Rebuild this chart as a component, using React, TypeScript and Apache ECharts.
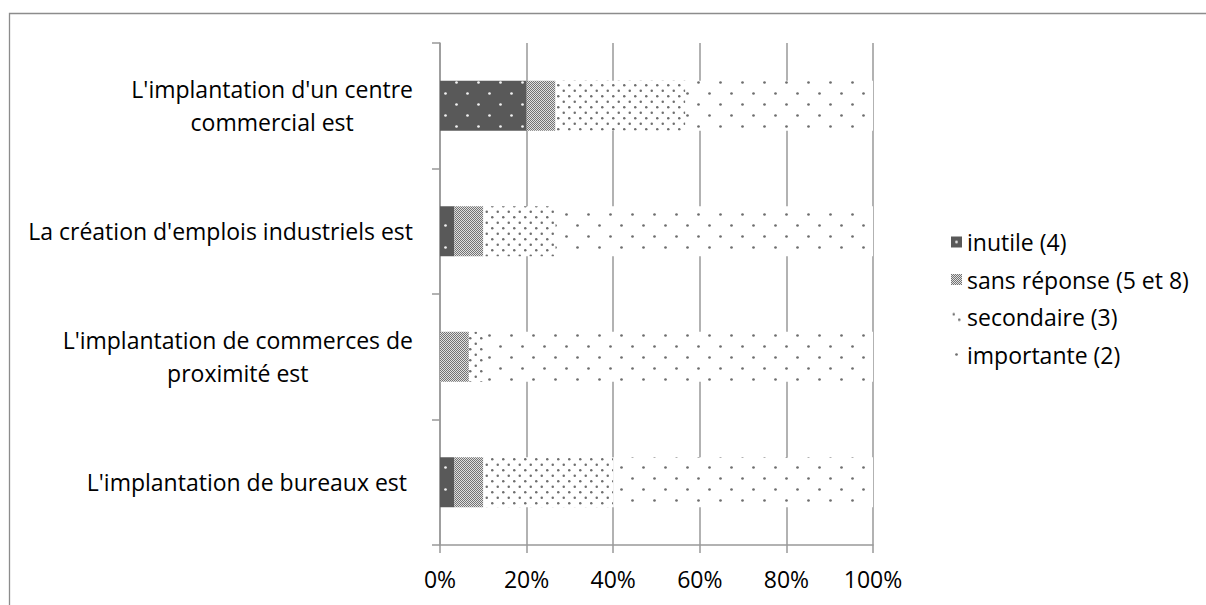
import React, { useEffect, useRef } from "react";
import * as echarts from "echarts";

const categories = [
  "L'implantation d'un centre\ncommercial est",
  "La création d'emplois industriels est",
  "L'implantation de commerces de\nproximité est",
  "L'implantation de bureaux est ",
];
const seriesNames = ["inutile (4)", "sans réponse (5 et 8)", "secondaire (3)", "importante (2)"];
const inutile = [20, 3.33, 0, 3.33];
const sansReponse = [6.67, 6.67, 6.67, 6.67];
const secondaire = [30, 16.67, 3.33, 30];
const importante = [43.33, 73.33, 90, 60];
const xMin = 0;
const xMax = 100;
const xStep = 20;

const FONT = "'Open Sans', 'Noto Sans', sans-serif";

function dotTile(w: number, h: number, bg: string, dot: string, dots: number[][], r: number) {
  const c = document.createElement("canvas");
  c.width = w;
  c.height = h;
  const ctx = c.getContext("2d")!;
  ctx.fillStyle = bg;
  ctx.fillRect(0, 0, w, h);
  ctx.fillStyle = dot;
  for (const [x, y] of dots) {
    ctx.beginPath();
    ctx.arc(x, y, r, 0, Math.PI * 2);
    ctx.fill();
  }
  return { image: c.toDataURL(), repeat: "repeat", imageWidth: w, imageHeight: h };
}

function checkerTile() {
  const c = document.createElement("canvas");
  c.width = 2;
  c.height = 2;
  const ctx = c.getContext("2d")!;
  ctx.fillStyle = "#e0e0e0";
  ctx.fillRect(0, 0, 2, 2);
  ctx.fillStyle = "#737373";
  ctx.fillRect(0, 0, 1, 1);
  ctx.fillRect(1, 1, 1, 1);
  return { image: c.toDataURL(), repeat: "repeat", imageWidth: 2, imageHeight: 2 };
}

export default function App() {
  const ref = useRef<HTMLDivElement>(null);
  useEffect(() => {
    document.body.style.margin = "0";
    const chart = echarts.init(ref.current!, null, { renderer: "svg" });
    const pInutile = dotTile(22, 22, "#595959", "#f2f2f2", [[5.5, 5.5], [16.5, 16.5]], 1.35);
    const pSans = checkerTile();
    const pSec = dotTile(11, 11, "#ffffff", "#6e6e6e", [[2.75, 2.75], [8.25, 8.25]], 1.25);
    const pImp = dotTile(22, 22, "#ffffff", "#6e6e6e", [[5.5, 5.5], [16.5, 16.5]], 1.35);
    const colors = [pInutile, pSans, pSec, pImp];
    const values = [inutile, sansReponse, secondaire, importante];

    chart.setOption({
      animation: false,
      backgroundColor: "#ffffff",
      textStyle: { fontFamily: FONT },
      graphic: [
        {
          type: "rect",
          z: -10,
          shape: { x: 9.5, y: 13.5, width: 1210, height: 600 },
          style: { fill: "none", stroke: "#8c8c8c", lineWidth: 1.3 },
        },
      ],
      grid: { left: 440, right: 333, top: 43, bottom: 60, containLabel: false, outerBoundsMode: "none" },
      legend: {
        orient: "vertical",
        left: 946,
        top: 224,
        icon: "rect",
        itemWidth: 11,
        itemHeight: 11,
        itemGap: 11.5,
        data: seriesNames,
        textStyle: { fontFamily: FONT, fontSize: 23, color: "#000", lineHeight: 26, padding: [0, 0, 0, 0] },
      },
      xAxis: {
        type: "value",
        min: xMin,
        max: xMax,
        interval: xStep,
        axisLine: { show: true, lineStyle: { color: "#999", width: 1.5 } },
        axisTick: { show: true, length: 8, inside: false, lineStyle: { color: "#999", width: 1.5 } },
        splitLine: { show: true, lineStyle: { color: "#999", width: 1.5 } },
        axisLabel: { formatter: "{value}%", fontFamily: FONT, fontSize: 23, color: "#000", margin: 22 },
      },
      yAxis: {
        type: "category",
        data: categories,
        inverse: true,
        axisLine: { show: true, lineStyle: { color: "#999", width: 1.5 } },
        axisTick: { show: true, length: 8, inside: false, alignWithLabel: false, lineStyle: { color: "#999", width: 1.5 } },
        splitLine: { show: false },
        axisLabel: {
          margin: 27,
          align: "right",
          formatter: (v: string) => v.split("\n").map((l) => `{c|${l}}`).join("\n"),
          rich: { c: { align: "center", fontFamily: FONT, fontSize: 23, color: "#000", lineHeight: 33 } },
        },
      },
      series: seriesNames.map((name, i) => ({
        name,
        type: "bar",
        stack: "total",
        barWidth: 50,
        data: values[i],
        itemStyle: { color: colors[i], borderWidth: 0 },
        emphasis: { disabled: true },
      })),
    });
    return () => chart.dispose();
  }, []);
  return <div ref={ref} style={{ width: 1206, height: 605 }} />;
}
